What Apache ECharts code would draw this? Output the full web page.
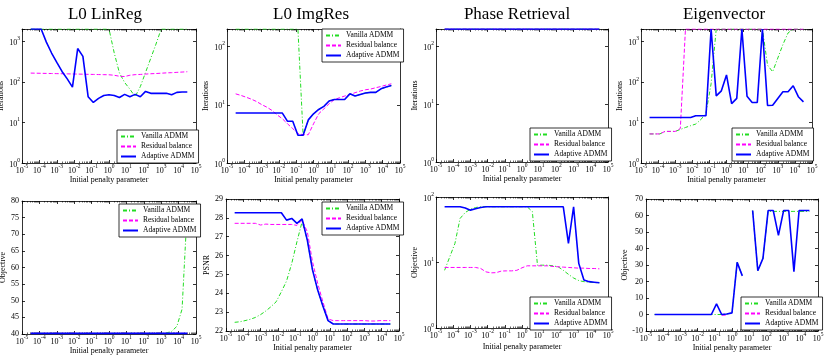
<!DOCTYPE html>
<html><head><meta charset="utf-8">
<script src="https://cdn.jsdelivr.net/npm/echarts@6/dist/echarts.min.js"></script>
<style>html,body{margin:0;padding:0;background:#fff}#c{width:831px;height:359px}</style>
</head><body><div id="c"></div>
<script>
// ---------------- DATA ----------------
const logRho = [-4.5,-4.2,-3.9,-3.6,-3.3,-3.0,-2.7,-2.4,-2.1,-1.8,-1.5,-1.2,-0.9,-0.6,-0.3,0,0.3,0.6,0.9,1.2,1.5,1.8,2.1,2.4,2.7,3.0,3.3,3.6,3.9,4.2,4.5];
const seriesNames = ['Vanilla ADMM','Residual balance','Adaptive ADMM'];
const titles = ['L0 LinReg','L0 ImgRes','Phase Retrieval','Eigenvector'];
const yNames = ['Iterations','Iterations','Iterations','Iterations','Objective','PSNR','Objective','Objective'];
const xName = 'Initial penalty parameter';

const linregItVanilla  = [2000,2000,2000,2000,2000,2000,2000,2000,2000,2000,2000,2000,2000,2000,2000,2000,515,165,96,66,43,76,170,380,850,2000,2000,2000,2000,2000,2000];
const linregItResidual = [164,163,162,161,160,159,158,157,156,155,154,153,152,151,150,149,145,137,135,145,150,152,155,158,160,163,166,168,171,174,177];
const linregItAdaptive = [2000,2000,2000,950,512,300,180,118,74,660,424,43,31,39,46,48,46,41,49,43,49,43,58,52,52,52,52,48,55,56,56];

const imgresItVanilla  = [200,200,200,200,200,200,200,200,200,200,200,200,200,3.0,5.5,7.0,8.3,9.4,11.6,12.3,12.3,12.3,15.4,14.1,15,15.9,16.3,16.3,18.8,20.1,21.4];
const imgresItResidual = [15.4,14.5,13.5,12.5,11.4,10.1,9.1,8.0,6.7,5.75,4.7,3.9,3.2,3.06,3.06,4.7,7.0,8.5,10.4,12.2,13.2,14.1,15,16.1,17.2,18.1,18.6,19.6,20.6,21.8,22.9];
const imgresItAdaptive = [7.2,7.2,7.2,7.2,7.2,7.2,7.2,7.2,7.2,7.2,5.2,5.2,3.0,3.0,5.5,7.0,8.3,9.4,11.6,12.3,12.3,12.3,15.4,14.1,15,15.9,16.3,16.3,18.8,20.1,21.4];

const phaseItVanilla  = [200,200,200,200,200,200,200,200,200,200,200,200,200,200,200,200,200,200,200,200,200,200,200,200,200,200,200,200,200,200,200];
const phaseItResidual = [200,200,200,200,200,200,200,200,200,200,200,200,200,200,200,200,200,200,200,200,200,200,200,200,200,200,200,200,200,200,200];
const phaseItAdaptive = [200,200,200,200,200,200,200,200,200,200,200,200,200,200,200,200,200,200,200,200,200,200,200,200,200,200,200,200,200,200,200];

const eigenItVanilla  = [5.2,5.2,5.2,6,6,6,6.7,7.5,8.3,9.1,11.7,17,90,2000,2000,2000,2000,2000,2000,2000,2000,2000,2000,257,177,385,830,1600,2000,2000,2000];
const eigenItResidual = [5.2,5.2,5.2,6,6,6,7.1,2000,2000,2000,2000,2000,2000,2000,2000,2000,2000,2000,2000,2000,2000,2000,2000,2000,2000,2000,2000,2000,2000,2000,2000];
const eigenItAdaptive = [13.2,13.2,13.2,13.2,13.2,13.2,13.2,13.2,13.2,14.6,14.6,14.6,2000,45,60,148,29,39,2000,44,31,31,2000,26,26.5,39,57,57,80,43,32];

const linregObjVanilla  = [40.2,40.2,40.2,40.2,40.2,40.2,40.2,40.2,40.2,40.2,40.2,40.2,40.2,40.2,40.2,40.2,40.2,40.2,40.2,40.2,40.2,40.2,40.2,40.2,40.2,40.2,40.3,40.8,42.3,47.5,78];
const linregObjResidual = [40.2,40.2,40.2,40.2,40.2,40.2,40.2,40.2,40.2,40.2,40.2,40.2,40.2,40.2,40.2,40.2,40.2,40.2,40.2,40.2,40.2,40.2,40.2,40.2,40.2,40.2,40.2,40.2,40.2,40.2,40.2];
const linregObjAdaptive = [40.2,40.2,40.2,40.2,40.2,40.2,40.2,40.2,40.2,40.2,40.2,40.2,40.2,40.2,40.2,40.2,40.2,40.2,40.2,40.2,40.2,40.2,40.2,40.2,40.2,40.2,40.2,40.2,40.2,40.2,40.2];

const imgresPsnrVanilla  = [22.46,22.49,22.55,22.62,22.72,22.87,23.06,23.29,23.55,24.08,24.65,25.58,26.73,27.8,26.82,25.24,24.17,23.33,22.55,22.37,22.37,22.37,22.37,22.37,22.37,22.37,22.37,22.37,22.37,22.37,22.37];
const imgresPsnrResidual = [27.71,27.71,27.71,27.71,27.71,27.62,27.67,27.65,27.65,27.65,27.65,27.65,27.6,27.88,27.26,25.67,24.53,23.55,22.64,22.55,22.55,22.55,22.55,22.55,22.55,22.55,22.53,22.53,22.55,22.55,22.55];
const imgresPsnrAdaptive = [28.27,28.27,28.27,28.27,28.27,28.27,28.27,28.27,28.27,28.27,27.88,27.97,27.71,27.94,26.82,25.24,24.17,23.33,22.55,22.37,22.37,22.37,22.37,22.37,22.37,22.37,22.37,22.37,22.37,22.37,22.37];

const phaseObjVanilla  = [7.6,12.2,19.5,47,58,65,69,71,71,71,71,71,71,71,71,71,71,60,9.1,9.1,9.1,8.9,8.6,7.6,6.6,5.8,5.3,5.1,5.0,4.95,4.9];
const phaseObjResidual = [8.4,8.4,8.4,8.4,8.4,8.4,8.4,8.1,7.2,6.95,7.0,7.4,7.45,7.45,7.6,8.3,8.9,8.9,8.9,8.9,8.9,8.7,8.6,8.5,8.4,8.3,8.2,8.2,8.1,8.1,8.0];
const phaseObjAdaptive = [71,71,71,71,68,63,66,69,71,71,71,71,71,71,71,71,71,71,71,71,71,71,71,71,19.6,71,9.7,5.4,5.1,5.0,4.9];

const eigenObjVanilla  = [0,0,0,0,0,0,0,0,0,0,0,0,0,0,0.3,1,31.6,23.4,null,63,26.5,34,62.5,62.5,62.5,62.5,62.5,62.5,62.5,62.5,62.5];
const eigenObjResidual = [null,null,null,null,null,null,null,null,null,null,null,null,null,-0.4,-0.4,null,null,null,null,null,null,null,null,null,null,null,null,null,null,null,null];
const eigenObjAdaptive = [0,0,0,0,0,0,0,0,0,0,0,0,6.4,0,0.3,1,31.6,23.4,null,63,26.5,34,63,63,48,63,63,26,63,63,63];

// ---------------- LAYOUT / STYLE ----------------
const FONT = '"Liberation Serif", "Times New Roman", serif';
const panelData = [
  [linregItVanilla, linregItResidual, linregItAdaptive],
  [imgresItVanilla, imgresItResidual, imgresItAdaptive],
  [phaseItVanilla, phaseItResidual, phaseItAdaptive],
  [eigenItVanilla, eigenItResidual, eigenItAdaptive],
  [linregObjVanilla, linregObjResidual, linregObjAdaptive],
  [imgresPsnrVanilla, imgresPsnrResidual, imgresPsnrAdaptive],
  [phaseObjVanilla, phaseObjResidual, phaseObjAdaptive],
  [eigenObjVanilla, eigenObjResidual, eigenObjAdaptive]
];
const yCfg = [
  {type:'log', min:1, max:2000, interval:1},
  {type:'log', min:1, max:200, interval:1},
  {type:'log', min:1, max:200, interval:1},
  {type:'log', min:1, max:2000, interval:1},
  {type:'value', min:40, max:80, interval:5},
  {type:'value', min:22, max:29, interval:1},
  {type:'log', min:1, max:100, interval:1},
  {type:'value', min:-10, max:70, interval:10}
];
const grids = [
  [22,29,174,134],[227,29,173,134],[436,29,172,133],[641,29,171,134],
  [22,201,174,133],[226,199,173,132],[436,197,172,131],[646,199,172,132]
];
const legendPos = [[117,130],[322,29],[530,128],[732,128],[119,204],[322,202],[530,297],[741,297]];
const yNameGap = [14,15,14,14,11,13,14,14];
const xNameGap = [12.5,12.5,12.5,12.5,10.5,12.5,15,12.5];
const titlePos = [[105,15],[311,15],[517,15],[724,15]];
const colors = ['#22dd22','#ff00ff','#0000ff'];
const lineStyles = [
  {width:1, type:[4,2,1,2]},
  {width:1, type:[4,2]},
  {width:1.6, type:'solid'}
];

function logLabel(v){
  const l = Math.log10(v), e = Math.round(l);
  if (Math.abs(l - e) > 1e-6) return '';
  return '{b|10}{e|' + e + '}';
}
const rich = {
  b:{fontFamily:FONT, fontSize:8, color:'#000', lineHeight:11, verticalAlign:'bottom'},
  e:{fontFamily:FONT, fontSize:5.5, color:'#000', lineHeight:6, verticalAlign:'top'}
};
function common(){
  return {
    axisLine:{show:true, onZero:false, lineStyle:{color:'#000', width:0.8}},
    axisTick:{show:true, inside:true, length:3, lineStyle:{color:'#000', width:0.8}},
    splitLine:{show:false}
  };
}
const xMinor = {show:true, splitNumber:9, length:1.5, lineStyle:{color:'#000', width:0.6}};

const option = {animation:false, backgroundColor:'#fff', grid:[], xAxis:[], yAxis:[], series:[], legend:[], graphic:[]};

for (let g = 0; g < 8; g++) {
  const [l,t,w,h] = grids[g];
  option.grid.push({left:l, top:t, width:w, height:h, containLabel:false, outerBoundsMode:'none', show:false});
  const xBase = Object.assign(common(), {type:'log', logBase:10, gridIndex:g, min:1e-5, max:1e5, interval:1, minorTick:xMinor});
  option.xAxis.push(Object.assign({}, xBase, {
    position:'bottom',
    axisLabel:{show:true, margin:1, formatter:logLabel, rich:rich, showMinLabel:true, showMaxLabel:true},
    name:xName, nameLocation:'middle', nameGap:xNameGap[g],
    nameTextStyle:{fontFamily:FONT, fontSize:8, color:'#000'}
  }));
  option.xAxis.push(Object.assign({}, xBase, {position:'top', axisLabel:{show:false}}));
  const yc = yCfg[g];
  const yBase = Object.assign(common(), {type:yc.type, gridIndex:g, min:yc.min, max:yc.max, interval:yc.interval});
  if (yc.type === 'log') yBase.logBase = 10;
  option.yAxis.push(Object.assign({}, yBase, {
    position:'left',
    axisLabel: yc.type === 'log'
      ? {show:true, margin:2, formatter:logLabel, rich:rich, showMinLabel:true, showMaxLabel:true}
      : {show:true, margin:3, fontFamily:FONT, fontSize:8, color:'#000'},
    name:yNames[g], nameLocation:'middle', nameGap:yNameGap[g], nameRotate:90,
    nameTextStyle:{fontFamily:FONT, fontSize:8, color:'#000'}
  }));
  option.yAxis.push(Object.assign({}, yBase, {position:'right', axisLabel:{show:false}}));

  for (let s = 0; s < 3; s++) {
    const vals = panelData[g][s];
    option.series.push({
      type:'line', name:seriesNames[s], xAxisIndex:2*g, yAxisIndex:2*g,
      data: logRho.map((e,i) => [Math.pow(10,e), vals[i] == null ? '-' : vals[i]]),
      symbol:'none', showSymbol:false, connectNulls:false, silent:true,
      color:colors[s], itemStyle:{color:colors[s]},
      lineStyle:Object.assign({color:colors[s]}, lineStyles[s])
    });
  }
  option.legend.push({
    data:seriesNames, orient:'vertical', left:legendPos[g][0], top:legendPos[g][1],
    padding:[2,4,2,3], itemGap:1, itemWidth:15, itemHeight:9,
    backgroundColor:'#fff', borderColor:'#000', borderWidth:0.8, borderRadius:0,
    itemStyle:{opacity:0},
    textStyle:{fontFamily:FONT, fontSize:7.5, color:'#000', lineHeight:9},
    selectedMode:false, z:10
  });
}
for (let i = 0; i < 4; i++) {
  option.graphic.push({type:'text', x:titlePos[i][0], y:titlePos[i][1], silent:true, z:20,
    style:{text:titles[i], fill:'#000', font:'17px ' + FONT, align:'center', verticalAlign:'middle'}});
}

const chart = echarts.init(document.getElementById('c'), null, {renderer:'canvas'});
chart.setOption(option);
</script>
</body></html>
